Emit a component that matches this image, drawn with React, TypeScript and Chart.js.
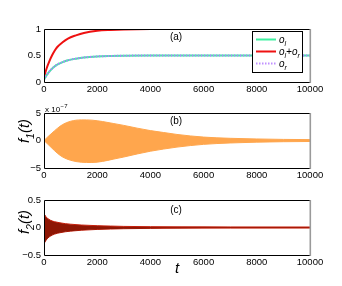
import React, { useEffect, useRef } from "react";
import { Chart, registerables } from "chart.js";
Chart.register(...registerables);

const W = 342;
const H = 286;
const FONT = "'Liberation Sans', Arial, Helvetica, sans-serif";

const xTickValues = [0, 2000, 4000, 6000, 8000, 10000];

// Panel (a)
const tA = [0, 100, 200, 300, 400, 500, 700, 900, 1200, 1500, 2000, 2500, 3000, 4000, 6000, 10000];
const oSum = [0.09, 0.26, 0.39, 0.5, 0.59, 0.66, 0.75, 0.82, 0.88, 0.925, 0.965, 0.982, 0.992, 0.999, 1.0, 1.0];
const oL = [0.045, 0.13, 0.195, 0.25, 0.295, 0.33, 0.375, 0.41, 0.44, 0.462, 0.482, 0.491, 0.496, 0.5, 0.5, 0.5];
const oR = [0.045, 0.13, 0.195, 0.25, 0.295, 0.33, 0.375, 0.41, 0.44, 0.462, 0.482, 0.491, 0.496, 0.5, 0.5, 0.5];
const aTicks = [0, 0.5, 1];

// Panel (b), values in units of 1e-7
const tB = [0, 150, 300, 500, 700, 1000, 1400, 1800, 2200, 2600, 3000, 3500, 4000, 4500, 5000, 6000, 7000, 8000, 9000, 10000];
const f1Upper = [0, 0.7, 1.35, 2.2, 2.9, 3.5, 3.75, 3.7, 3.45, 3.1, 2.75, 2.25, 1.8, 1.45, 1.1, 0.62, 0.4, 0.28, 0.2, 0.16];
const f1Lower = [0, -0.7, -1.4, -2.3, -3.0, -3.6, -3.95, -4.0, -3.8, -3.4, -3.0, -2.45, -1.95, -1.55, -1.2, -0.7, -0.45, -0.3, -0.22, -0.18];
const bTicks = [-5, 0, 5];

// Panel (c)
const tC = [0, 30, 80, 150, 250, 400, 600, 800, 1000, 1400, 2000, 2500, 3000, 4000, 5000, 7000, 10000];
const f2Upper = [0.24, 0.23, 0.19, 0.16, 0.13, 0.105, 0.085, 0.07, 0.06, 0.045, 0.033, 0.026, 0.02, 0.015, 0.012, 0.01, 0.009];
const f2Lower = [-0.29, -0.27, -0.23, -0.19, -0.155, -0.12, -0.095, -0.078, -0.066, -0.05, -0.035, -0.028, -0.022, -0.016, -0.013, -0.011, -0.01];
const cTicks = [-0.5, 0, 0.5];

const pts = (xs: number[], ys: number[]) => xs.map((x, i) => ({ x, y: ys[i] }));
const fmt = (v: number) => (v < 0 ? "\u2212" + String(-v) : String(v));

function drawSub(ctx: CanvasRenderingContext2D, parts: [string, boolean][], x: number, y: number, size: number) {
  let cx = x;
  for (const [txt, sub] of parts) {
    if (sub) {
      ctx.font = `italic ${size * 0.7}px ${FONT}`;
      ctx.fillText(txt, cx, y + size * 0.3);
    } else {
      ctx.font = `italic ${size}px ${FONT}`;
      ctx.fillText(txt, cx, y);
    }
    cx += ctx.measureText(txt).width;
  }
}

type Extra = {
  label: string;
  labelY: number;
  yTitle?: [string, boolean][];
  yTitleY?: number;
  legend?: boolean;
  exp?: boolean;
  xTitle?: boolean;
};

function makeFramePlugin(extra: Extra) {
  return {
    id: "frame" + extra.label,
    afterDraw(chart: any) {
      const ctx = chart.ctx as CanvasRenderingContext2D;
      const a = chart.chartArea;
      ctx.save();
      ctx.strokeStyle = "#000";
      ctx.lineWidth = 1;
      ctx.beginPath();
      ctx.moveTo(a.right, a.top + 0.5);
      ctx.lineTo(a.left + 0.5, a.top + 0.5);
      ctx.lineTo(a.left + 0.5, a.bottom + 0.5);
      ctx.lineTo(a.right, a.bottom + 0.5);
      ctx.stroke();
      ctx.strokeStyle = "#9a9a9a";
      ctx.lineWidth = 1.6;
      ctx.beginPath();
      ctx.moveTo(a.right + 0.3, a.top);
      ctx.lineTo(a.right + 0.3, a.bottom + 1);
      ctx.stroke();

      ctx.fillStyle = "#000";
      ctx.textBaseline = "middle";
      ctx.textAlign = "center";
      ctx.font = `10px ${FONT}`;
      ctx.fillText(extra.label, 176, extra.labelY);

      if (extra.yTitle) {
        ctx.save();
        ctx.translate(29, extra.yTitleY!);
        ctx.rotate(-Math.PI / 2);
        ctx.textAlign = "left";
        ctx.textBaseline = "alphabetic";
        let total = 0;
        for (const [t, s] of extra.yTitle) {
          ctx.font = `italic ${s ? 15 * 0.7 : 15}px ${FONT}`;
          total += ctx.measureText(t).width;
        }
        drawSub(ctx, extra.yTitle, -total / 2, 0, 15);
        ctx.restore();
      }

      if (extra.exp) {
        ctx.textAlign = "left";
        ctx.textBaseline = "alphabetic";
        ctx.font = `8px ${FONT}`;
        ctx.fillText("x 10", 45, 112);
        const w = ctx.measureText("x 10").width;
        ctx.font = `6px ${FONT}`;
        ctx.fillText("\u22127", 45 + w + 0.5, 107.5);
      }

      if (extra.xTitle) {
        ctx.textAlign = "center";
        ctx.textBaseline = "alphabetic";
        ctx.font = `italic 15px ${FONT}`;
        ctx.fillText("t", 177, 273);
      }

      if (extra.legend) {
        const bx = 252.5, by = 31.5, bw = 50, bh = 41;
        ctx.fillStyle = "#fff";
        ctx.fillRect(bx, by, bw, bh);
        ctx.strokeStyle = "#000";
        ctx.lineWidth = 1;
        ctx.strokeRect(bx, by, bw, bh);
        const rows: { y: number; color: string; dash: number[]; parts: [string, boolean][] }[] = [
          { y: 39.5, color: "#3ff0a0", dash: [], parts: [["o", false], ["l", true]] },
          { y: 51.5, color: "#ee1111", dash: [], parts: [["o", false], ["l", true], ["+o", false], ["r", true]] },
          { y: 63.5, color: "#c090ff", dash: [1.5, 1.5], parts: [["o", false], ["r", true]] },
        ];
        for (const r of rows) {
          ctx.strokeStyle = r.color;
          ctx.lineWidth = 2;
          ctx.setLineDash(r.dash);
          ctx.beginPath();
          ctx.moveTo(256, r.y);
          ctx.lineTo(276, r.y);
          ctx.stroke();
          ctx.setLineDash([]);
          ctx.fillStyle = "#000";
          ctx.textAlign = "left";
          ctx.textBaseline = "alphabetic";
          drawSub(ctx, r.parts, 279, r.y + 3, 10);
        }
      }
      ctx.restore();
    },
  };
}

function baseScales(min: number, max: number, ticks: number[]) {
  return {
    x: {
      type: "linear",
      min: 0,
      max: 10000,
      afterBuildTicks: (s: any) => {
        s.ticks = xTickValues.map((v) => ({ value: v }));
      },
      afterFit: (s: any) => {
        s.height = 14;
      },
      grid: { display: false, drawTicks: false },
      border: { display: false },
      ticks: {
        padding: 2,
        color: "#000",
        font: { family: FONT, size: 9.5 },
        maxRotation: 0,
        autoSkip: false,
        callback: (v: any) => String(v),
      },
    },
    y: {
      type: "linear",
      min,
      max,
      afterBuildTicks: (s: any) => {
        s.ticks = ticks.map((v) => ({ value: v }));
      },
      afterFit: (s: any) => {
        s.width = 44;
      },
      grid: { display: false, drawTicks: false },
      border: { display: false },
      ticks: {
        padding: 3,
        color: "#000",
        font: { family: FONT, size: 9.5 },
        autoSkip: false,
        callback: (v: any) => fmt(v),
      },
    },
  };
}

function buildConfig(panel: number): any {
  const common = {
    responsive: false,
    maintainAspectRatio: false,
    animation: false,
    events: [],
    plugins: { legend: { display: false }, tooltip: { enabled: false } },
    elements: { point: { radius: 0 } },
  };
  if (panel === 0) {
    return {
      type: "line",
      data: {
        datasets: [
          { label: "o_r", data: pts(tA, oR), borderColor: "#b080ff", borderWidth: 2, borderDash: [1.5, 1.5], cubicInterpolationMode: "monotone", fill: false, order: 0 },
          { label: "o_l", data: pts(tA, oL), borderColor: "#3ff0a0", borderWidth: 2, cubicInterpolationMode: "monotone", fill: false, order: 1 },
          { label: "o_l+o_r", data: pts(tA, oSum), borderColor: "#ee1111", borderWidth: 2, cubicInterpolationMode: "monotone", fill: false, order: 2 },
        ],
      },
      options: {
        ...common,
        layout: { padding: { left: 0, right: 32, top: 29, bottom: 286 - 82 - 14 } },
        scales: baseScales(0, 1, aTicks),
      },
      plugins: [makeFramePlugin({ label: "(a)", labelY: 37.5, legend: true })],
    };
  }
  if (panel === 1) {
    return {
      type: "line",
      data: {
        datasets: [
          { label: "f1 upper", data: pts(tB, f1Upper), borderColor: "#ffa64d", backgroundColor: "#ffa64d", borderWidth: 1, cubicInterpolationMode: "monotone", fill: "+1" },
          { label: "f1 lower", data: pts(tB, f1Lower), borderColor: "#ffa64d", backgroundColor: "#ffa64d", borderWidth: 1, cubicInterpolationMode: "monotone", fill: false },
        ],
      },
      options: {
        ...common,
        layout: { padding: { left: 0, right: 32, top: 113, bottom: 286 - 168 - 14 } },
        scales: baseScales(-5, 5, bTicks),
      },
      plugins: [makeFramePlugin({ label: "(b)", labelY: 121, yTitle: [["f", false], ["1", true], ["(t)", false]], yTitleY: 131, exp: true })],
    };
  }
  return {
    type: "line",
    data: {
      datasets: [
        { label: "f2 upper", data: pts(tC, f2Upper), borderColor: "#c41e0a", backgroundColor: "#8e1604", borderWidth: 1, cubicInterpolationMode: "monotone", fill: "+1" },
        { label: "f2 lower", data: pts(tC, f2Lower), borderColor: "#c41e0a", backgroundColor: "#8e1604", borderWidth: 1, cubicInterpolationMode: "monotone", fill: false },
      ],
    },
    options: {
      ...common,
      layout: { padding: { left: 0, right: 32, top: 200, bottom: 286 - 255 - 14 } },
      scales: baseScales(-0.5, 0.5, cTicks),
    },
    plugins: [makeFramePlugin({ label: "(c)", labelY: 210, yTitle: [["f", false], ["2", true], ["(t)", false]], yTitleY: 222, xTitle: true })],
  };
}

function Panel({ panel }: { panel: number }) {
  const ref = useRef<HTMLCanvasElement>(null);
  useEffect(() => {
    if (!ref.current) return;
    const chart = new Chart(ref.current, buildConfig(panel));
    return () => chart.destroy();
  }, [panel]);
  return (
    <canvas
      ref={ref}
      width={W}
      height={H}
      style={{ position: "absolute", left: 0, top: 0, width: W, height: H }}
    />
  );
}

export default function App() {
  return (
    <div style={{ position: "absolute", left: 0, top: 0, width: W, height: H, background: "#fff" }}>
      <Panel panel={0} />
      <Panel panel={1} />
      <Panel panel={2} />
    </div>
  );
}
